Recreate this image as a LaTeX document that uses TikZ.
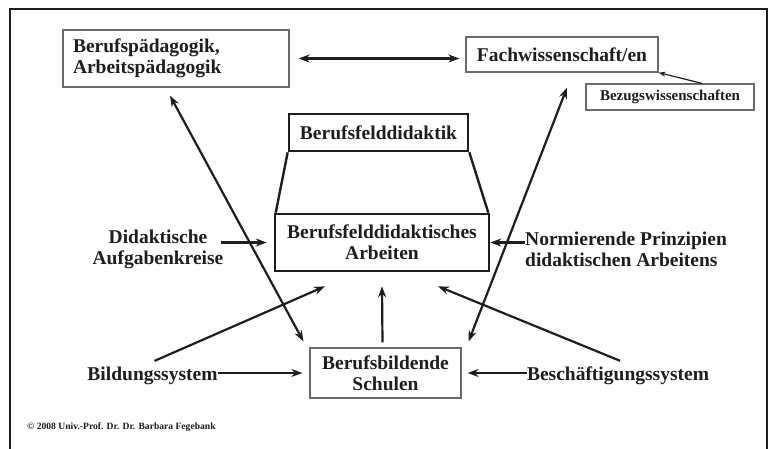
\documentclass[tikz,border=0pt]{standalone}
\usepackage{fontspec}
\setmainfont{Liberation Serif}
\usetikzlibrary{arrows.meta,calc}
\definecolor{ink}{HTML}{1E1E1E}
\definecolor{thinbox}{HTML}{6A6A6A}
\tikzset{
  lbl/.style={font=\bfseries\fontsize{19.5}{21}\selectfont, text=ink, inner sep=0pt},
  thinbx/.style={draw=thinbox, line width=1.2pt, inner sep=0pt, font=\bfseries\fontsize{19.5}{21}\selectfont, text=ink},
  thickbx/.style={draw=ink, line width=2.6pt, inner sep=0pt, font=\bfseries\fontsize{19.5}{21}\selectfont, text=ink},
  arr/.style={draw=ink, line width=2.2pt, -{Stealth[length=11pt,width=8pt]}},
  arrr/.style={draw=ink, line width=2.2pt, {Stealth[length=11pt,width=8pt]}-{Stealth[length=11pt,width=8pt]}},
  ln/.style={draw=ink, line width=2.4pt}
}
\begin{document}
\begin{tikzpicture}[x=1pt,y=-1pt]
\useasboundingbox (0,0) rectangle (771,448);
\fill[white] (0,0) rectangle (771,448);
% outer frame
\draw[draw=ink, line width=2.6pt] (10,452) -- (10,9) -- (767,9) -- (767,452);

% boxes
\node[thinbx, minimum width=226pt, minimum height=57pt, text width=206pt, align=left] (bp) at (176,58.5)
  {Berufsp\"adagogik,\\Arbeitsp\"adagogik};
\node[thinbx, minimum width=192pt, minimum height=35pt] (fach) at (562,54.5) {Fachwissenschaft/en};
\node[thinbx, minimum width=168pt, minimum height=26pt, font=\bfseries\fontsize{15}{16}\selectfont] (bz) at (670,97) {Bezugswissenschaften};
\node[thickbx, minimum width=179pt, minimum height=37pt] (bfd) at (378.5,132.5) {Berufsfelddidaktik};
\node[thickbx, minimum width=214pt, minimum height=57pt, align=center] (arb) at (382,242.5)
  {Berufsfelddidaktisches\\Arbeiten};
\node[thinbx, minimum width=151pt, minimum height=50pt, align=center] (sch) at (385.5,373)
  {Berufsbildende\\Schulen};

% free labels
\node[lbl, align=center] (dak) at (158,249) {Didaktische\\Aufgabenkreise};
\node[lbl, align=left, anchor=west] (norm) at (525,249) {Normierende Prinzipien\\didaktischen Arbeitens};
\node[lbl] (bild) at (152.5,376) {Bildungssystem};
\node[lbl] (besch) at (618,376) {Besch\"aftigungssystem};
\node[inner sep=0pt, anchor=west, text=ink, font=\bfseries\fontsize{9.6}{10}\selectfont] (copy) at (27,427)
  {\textcopyright\ 2008 Univ.-Prof. Dr. Dr. Barbara Fegebank};

% trapezoid
\draw[ln] (bfd.south west) -- ($(arb.north west)+(2,0)$);
\draw[ln] (bfd.south east) -- ($(arb.north east)+(-2,0)$);

% connectors
\draw[arrr] ($(bp.east)+(9,0)$) -- ($(bp.east -| fach.west)+(-6,0)$);
\draw[draw=ink, line width=1.2pt, -{Stealth[length=7pt,width=5pt]}] ($(bz.north)+(32,0)$) -- (fach.south east);
\draw[arrr] ($(bp.south)+(-6,8)$) -- ($(sch.north west)+(-6,-6)$);
\draw[arrr] ($(fach.south)+(5,15)$) -- ($(sch.north east)+(7,-6)$);
\draw[arr] ($(sch.north)+(-3,-5)$) -- ($(arb.south)+(0,14)$);
\draw[arr] ($(bild.north)+(2,-6)$) -- ($(arb.south)+(-57,14)$);
\draw[arr] ($(besch.north)+(2,-6)$) -- ($(arb.south)+(56,14)$);
\draw[arr] ($(dak.east |- arb.west)+(-3,0)$) -- ($(arb.west)+(-7,0)$);
\draw[arr] (norm.west |- arb.east) -- (arb.east);
\draw[arr] (bild.east |- sch.west) -- ($(sch.west)+(-7,0)$);
\draw[arr] (besch.west |- sch.east) -- ($(sch.east)+(6,0)$);
\end{tikzpicture}
\end{document}
